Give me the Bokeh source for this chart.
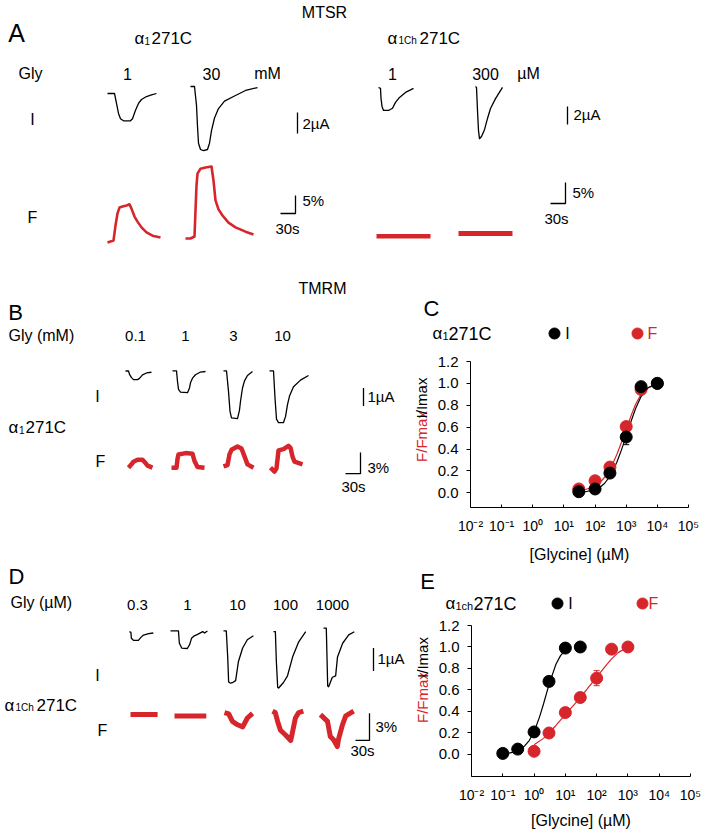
import numpy as np
from bokeh.plotting import figure
from bokeh.layouts import column, row
from bokeh.models import (Range1d, FixedTicker, PrintfTickFormatter, CustomJSTickFormatter,
                          Whisker, TeeHead, ColumnDataSource)
from bokeh.core.properties import value
from bokeh.embed import file_html
from bokeh.resources import INLINE

FONT = "Liberation Sans"
BLACK = "#000000"
RED = "#d7262b"

# ---------------- DATA (time in s, current in uA, fluorescence in %) ----------------
# Panel A: MTSR, alpha1 271C
A_I_1mM_t = [0, 14, 18, 22, 26, 32, 46, 50, 56, 62, 68, 78, 88, 98]
A_I_1mM_v = [0, 0, -0.95, -1.9, -2.4, -2.6, -2.6, -2.4, -1.6, -0.95, -0.57, -0.29, -0.14, 0]
A_I_30mM_t = [0, 8, 12, 14, 16, 20, 26, 34, 38, 42, 48, 56, 68, 86, 110, 134]
A_I_30mM_v = [0, 0, -1.8, -3.8, -5.4, -6.0, -6.1, -6.0, -5.4, -4.2, -3.0, -2.1, -1.4, -0.95, -0.38, -0.1]
A_F_1mM_t = [0, 6, 12, 16, 20, 24, 30, 38, 44, 48, 54, 60, 68, 78, 90, 106]
A_F_1mM_v = [0, 0.3, 0.55, 4.7, 8.1, 9.7, 10, 10.3, 10.6, 9.4, 7.2, 5.8, 4.2, 2.8, 1.9, 1.4]
A_F_30mM_t = [0, 10, 18, 20, 22, 24, 30, 40, 52, 56, 60, 66, 74, 86, 100, 120, 136]
A_F_30mM_v = [0, 0, 0.55, 7.8, 14.7, 18, 19.4, 19.7, 20, 16.1, 10.6, 8.1, 6.4, 4.4, 3.1, 1.9, 1.1]
# Panel A: MTSR, alpha1Ch 271C
A_Ich_1uM_t = [0, 4, 5, 7, 10, 20, 28, 34, 42, 54, 70]
A_Ich_1uM_v = [0, -0.1, -1.2, -2.1, -2.55, -2.55, -2.3, -1.65, -1.1, -0.55, -0.1]
A_Ich_300uM_t = [0, 2, 4, 6, 8, 12, 18, 24, 30, 40, 54]
A_Ich_300uM_v = [0, -0.1, -2.7, -4.9, -5.8, -5.55, -4.8, -3.55, -2.45, -1.35, -0.1]
A_Fch_1uM_t = [0, 108]
A_Fch_1uM_v = [0, 0]
A_Fch_300uM_t = [0, 108]
A_Fch_300uM_v = [0, 0]

# Panel B: TMRM, alpha1 271C, Gly 0.1, 1, 3, 10 mM
B_doses = ["0.1", "1", "3", "10"]
B_I_t = [[0, 6, 8, 12, 16, 24, 28, 34, 42, 52],
         [0, 8, 10, 12, 16, 30, 34, 36, 40, 46, 56, 66],
         [0, 6, 10, 13, 16, 28, 32, 34, 38, 42, 48, 58],
         [0, 8, 11, 14, 18, 28, 32, 36, 40, 48, 62, 78]]
B_I_v = [[0, 0, -0.19, -0.37, -0.48, -0.48, -0.41, -0.22, -0.11, -0.07],
         [0, 0, -0.6, -1.04, -1.19, -1.22, -0.96, -0.67, -0.41, -0.22, -0.07, -0.04],
         [0, 0, -1.15, -2.26, -2.63, -2.67, -2.19, -1.7, -0.96, -0.56, -0.26, -0.04],
         [0, 0, -1.52, -2.7, -2.89, -2.89, -2.56, -1.89, -1.41, -0.89, -0.52, -0.26]]
B_F_t = [[0, 6, 10, 18, 28, 34, 38, 48],
         [0, 10, 12, 14, 28, 42, 46, 52, 66],
         [0, 8, 12, 16, 28, 36, 42, 48, 60],
         [0, 8, 12, 16, 26, 36, 40, 44, 48, 64]]
B_F_v = [[0, 0.47, 0.84, 1.12, 1.12, 0.66, 0.28, 0],
         [0, 0, 1.22, 1.87, 2.06, 1.97, 0.94, 0.09, 0],
         [0, 0.19, 1.69, 2.34, 2.81, 2.53, 1.41, 0.28, -0.19],
         [0, -0.56, -0.09, 2.44, 2.62, 3.09, 2.81, 1.59, 0.84, 0.47]]

# Panel D: TMRM, alpha1Ch 271C, Gly 0.3, 1, 10, 100, 1000 uM
D_doses = ["0.3", "1", "10", "100", "1000"]
D_I_t = [[0, 3, 4, 9, 19, 24, 30, 41, 51],
         [0, 17, 19, 24, 36, 41, 45, 51, 58, 69, 73, 79],
         [0, 6, 9, 11, 15, 19, 26, 32, 41, 51, 64],
         [0, 4, 6, 9, 11, 21, 30, 41, 54, 69],
         [0, 6, 9, 11, 19, 26, 30, 41, 54, 66]]
D_I_v = [[0, -0.03, -0.29, -0.38, -0.38, -0.26, -0.15, -0.09, -0.06],
         [0, 0, -0.53, -0.74, -0.76, -0.59, -0.32, -0.21, -0.15, -0.03, -0.09, 0],
         [0, 0, -1.12, -2.21, -2.26, -2.24, -2.15, -1.32, -0.74, -0.38, -0.21],
         [0, 0, -1.24, -2.41, -2.44, -2.21, -1.91, -1.09, -0.44, 0],
         [0, 0, -2.5, -2.53, -2.12, -2.06, -1.24, -0.65, -0.29, -0.15]]
D_F_t = [[0, 58],
         [0, 68],
         [0, 9, 17, 28, 39, 49, 60],
         [0, 6, 11, 17, 28, 39, 43, 49, 56, 66],
         [0, 15, 21, 28, 36, 39, 47, 54, 71]]
D_F_v = [[0, 0],
         [0, 0],
         [0, -0.15, -0.98, -1.35, -1.58, -0.6, -0.08],
         [0, -0.15, -1.13, -2.1, -2.63, -3.23, -2.26, -0.75, -0.15, 0],
         [0, -0.75, -2.41, -2.78, -3.53, -2.63, -1.13, -0.15, 0.38]]

# Panel C: alpha1 271C concentration-response (uM)
C_conc = [30, 100, 300, 1000, 3000, 10000]
C_I = [0.01, 0.035, 0.18, 0.51, 0.97, 1.0]
C_F = [0.035, 0.11, 0.235, 0.605, 0.945, 1.0]
C_I_err_x = [1000]
C_I_err_lo = [0.44]
C_I_err_hi = [0.58]
C_fit_conc = [30, 50, 100, 150, 200, 300, 500, 700, 1000, 1500, 2000, 3000, 5000, 10000]
C_fit_I = [0.005, 0.01, 0.03, 0.055, 0.085, 0.15, 0.28, 0.39, 0.52, 0.67, 0.77, 0.88, 0.96, 1.0]
C_fit_F = [0.02, 0.03, 0.06, 0.1, 0.14, 0.21, 0.35, 0.46, 0.58, 0.72, 0.81, 0.9, 0.96, 0.99]

# Panel E: alpha1Ch 271C concentration-response (uM)
E_I_conc = [0.1, 0.3, 1, 3, 10, 30]
E_I = [0.01, 0.05, 0.21, 0.68, 0.99, 1.0]
E_F_conc = [1, 3, 10, 30, 100, 300, 1000]
E_F = [0.03, 0.2, 0.39, 0.53, 0.71, 0.98, 1.0]
E_I_err_x, E_I_err_lo, E_I_err_hi = [1], [0.17], [0.25]
E_F_err_x, E_F_err_lo, E_F_err_hi = [100], [0.64], [0.78]
E_fit_I_conc = [0.1, 0.2, 0.3, 0.5, 0.7, 1, 1.5, 2, 3, 5, 7, 10, 12]
E_fit_I = [0.0, 0.02, 0.04, 0.08, 0.13, 0.21, 0.35, 0.47, 0.65, 0.84, 0.92, 0.97, 0.98]
E_fit_F_conc = [1, 2, 3, 5, 10, 20, 30, 50, 100, 200, 300, 500, 1000]
E_fit_F = [0.09, 0.15, 0.2, 0.27, 0.37, 0.47, 0.53, 0.61, 0.72, 0.83, 0.89, 0.95, 1.0]

DECADES = [1e-2, 1e-1, 1e0, 1e1, 1e2, 1e3, 1e4, 1e5]
Y_TICKS = [0.0, 0.2, 0.4, 0.6, 0.8, 1.0, 1.2]


# ---------------- helpers (canvas y = minus page row, so y grows upward) ----------------
def canvas(x0, x1, y0, y1):
    p = figure(width=x1 - x0, height=y1 - y0, x_range=Range1d(x0, x1), y_range=Range1d(-y1, -y0),
               x_axis_type=None, y_axis_type=None, output_backend="svg", toolbar_location=None,
               min_border=0)
    p.grid.visible = False
    p.outline_line_color = None
    return p


def txt(p, x, y, s, size=15, color=BLACK, align="center", angle=0.0):
    p.text(x=[x], y=[-y], text=[s], text_font=value(FONT), text_font_size=f"{size}px",
           text_color=color, text_align=align, text_baseline="middle", angle=angle)


def alpha_txt(p, xa, xs, xm, yc, sub, sm=17, ss=10):
    txt(p, xa, yc, "α", 17, align="left")
    txt(p, xs, yc + 0.36 * (sm - ss), sub, ss, align="left")
    txt(p, xm, yc, "271C", sm, align="left")


def dot(p, x, y, color):
    p.scatter([x], [-y], size=11, fill_color=color, line_color=color)


def trace(p, t, v, x0, y0, sx, sy, color, lw):
    t = np.asarray(t, float)
    v = np.asarray(v, float)
    p.line(x0 + sx * t, -y0 + sy * v, line_color=color, line_width=lw, line_join="round")


def vbar_scale(p, x, ybot, length):
    p.line([x, x], [-ybot, -ybot + length], line_color=BLACK, line_width=1.3)


def lbar_scale(p, x, ybot, vlen, hlen):
    p.line([x - hlen, x, x], [-ybot, -ybot, -ybot + vlen], line_color=BLACK, line_width=1.3)


def ylabel_pair(p, x, y_red, y_black):
    # two rotated, centred pieces of the y-axis title
    txt(p, x, y_red, "F/Fmax", 15, color=RED, align="center", angle=np.pi / 2)
    txt(p, x, y_black, "I/Imax", 15, align="center", angle=np.pi / 2)


# ---------------- Panel A ----------------
pa = canvas(0, 709, 0, 270)
SX_A = 0.5
SY_AI_L, SY_AI_R = 10.5, 9.0
SY_AF_L, SY_AF_R = 3.6, 4.2
txt(pa, 324, 12, "MTSR", 16)
txt(pa, 16, 32, "A", 25)
alpha_txt(pa, 134, 144, 151, 37.5, "1")
alpha_txt(pa, 387, 398, 419, 37.5, "1Ch")
txt(pa, 30, 73, "Gly", 16)
for x, s in [(127, "1"), (211, "30"), (267, "mM"), (392, "1"), (485, "300"), (528, "µM")]:
    txt(pa, x, 73, s, 16)
txt(pa, 32, 119, "I", 16)
txt(pa, 32, 217, "F", 16)

trace(pa, A_I_1mM_t, A_I_1mM_v, 107, 93, SX_A, SY_AI_L, BLACK, 1.3)
trace(pa, A_I_30mM_t, A_I_30mM_v, 190, 86, SX_A, SY_AI_L, BLACK, 1.3)
trace(pa, A_Ich_1uM_t, A_Ich_1uM_v, 378, 87, SX_A, SY_AI_R, BLACK, 1.3)
trace(pa, A_Ich_300uM_t, A_Ich_300uM_v, 475, 86, SX_A, SY_AI_R, BLACK, 1.3)
trace(pa, A_F_1mM_t, A_F_1mM_v, 107, 242, SX_A, SY_AF_L, RED, 2.6)
trace(pa, A_F_30mM_t, A_F_30mM_v, 185, 238, SX_A, SY_AF_L, RED, 2.6)
trace(pa, A_Fch_1uM_t, A_Fch_1uM_v, 376, 235.7, SX_A, SY_AF_R, RED, 4.5)
trace(pa, A_Fch_300uM_t, A_Fch_300uM_v, 458, 233, SX_A, SY_AF_R, RED, 5)

vbar_scale(pa, 297, 133, 2 * SY_AI_L)
txt(pa, 302, 123, "2µA", 15, align="left")
vbar_scale(pa, 567, 124, 2 * SY_AI_R)
txt(pa, 573, 114, "2µA", 15, align="left")
lbar_scale(pa, 295, 213, 5 * SY_AF_L, 30 * SX_A)
txt(pa, 302, 200, "5%", 15, align="left")
txt(pa, 287, 228, "30s", 15)
lbar_scale(pa, 565, 203, 5 * SY_AF_R, 30 * SX_A)
txt(pa, 572, 192, "5%", 15, align="left")
txt(pa, 556, 218, "30s", 15)

# ---------------- Panel B (top strip + traces) ----------------
pb_top = canvas(0, 407, 270, 345)
txt(pb_top, 322, 288, "TMRM", 16)
txt(pb_top, 15, 312, "B", 22)
txt(pb_top, 8, 335, "Gly (mM)", 16, align="left")
for x, s in zip([135, 185, 233, 282], B_doses):
    txt(pb_top, x, 335, s, 15)

pb = canvas(0, 434, 345, 565)
SX_B, SY_BI, SY_BF = 0.5, 27.0, 10.67
txt(pb, 97, 397, "I", 16)
alpha_txt(pb, 8, 18.5, 25, 445, "1")
txt(pb, 100, 495, "F", 16)
for t, v, (x0, y0) in zip(B_I_t, B_I_v, [(125, 359.3), (172, 359), (223, 359), (269, 359)]):
    trace(pb, t, v, x0, y0, SX_B, SY_BI, BLACK, 1.3)
for t, v, (x0, y0) in zip(B_F_t, B_F_v, [(128, 505), (171, 505), (223, 503), (270, 505)]):
    trace(pb, t, v, x0, y0, SX_B, SY_BF, RED, 4.5)
vbar_scale(pb, 363, 412, 1 * SY_BI)
txt(pb, 367, 398, "1µA", 15, align="left")
lbar_scale(pb, 360, 514, 3 * SY_BF, 30 * SX_B)
txt(pb, 367, 505, "3%", 15, align="left")
txt(pb, 353, 533, "30s", 15)
ylabel_pair(pb, 421, 458, 400)   # y-axis title of panel C

# ---------------- Panel C header (letter + legend) ----------------
pc_top = canvas(407, 709, 270, 345)
txt(pc_top, 431, 308, "C", 22)
alpha_txt(pc_top, 432, 442, 448, 333, "1", sm=18, ss=11)
dot(pc_top, 554, 333, BLACK)
dot(pc_top, 637, 333, RED)
txt(pc_top, 567, 333, "I", 16)
txt(pc_top, 652, 333, "F", 16, color=RED)

# ---------------- Panel D (top strip + traces) ----------------
pd_top = canvas(0, 407, 565, 614)
txt(pd_top, 16, 576, "D", 22)
txt(pd_top, 10, 602, "Gly (µM)", 16, align="left")
for x, s in zip([137, 187, 237, 285, 332], D_doses):
    txt(pd_top, x, 604, s, 15)

pd_ = canvas(0, 434, 614, 836)
SX_D, SY_DI, SY_DF = 0.467, 34.0, 13.33
txt(pd_, 97, 688, "I", 16)
alpha_txt(pd_, 4, 15, 36, 732, "1Ch")
txt(pd_, 102, 768, "F", 16)
for t, v, (x0, y0) in zip(D_I_t, D_I_v, [(129, 623), (170, 622), (223, 622), (273, 623), (323, 618)]):
    trace(pd_, t, v, x0, y0, SX_D, SY_DI, BLACK, 1.3)
for t, v, (x0, y0) in zip(D_F_t, D_F_v, [(130, 745), (174, 747), (224, 742), (272, 740), (320, 745)]):
    trace(pd_, t, v, x0, y0, SX_D, SY_DF, RED, 5)
vbar_scale(pd_, 373, 681, 1 * SY_DI)
txt(pd_, 377, 663, "1µA", 15, align="left")
lbar_scale(pd_, 369, 783, 3 * SY_DF, 30 * SX_D)
txt(pd_, 375, 763, "3%", 15, align="left")
txt(pd_, 362, 798, "30s", 15)
ylabel_pair(pd_, 422, 720, 661)   # y-axis title of panel E

# ---------------- Panel E header ----------------
pe_top = canvas(407, 709, 565, 614)
txt(pe_top, 427, 581, "E", 22)
alpha_txt(pe_top, 445, 455, 473, 603, "1ch", sm=18, ss=11)
dot(pe_top, 557, 603, BLACK)
dot(pe_top, 642, 603, RED)
txt(pe_top, 570, 603, "I", 16)
txt(pe_top, 653, 603, "F", 16, color=RED)

# ---------------- Dose-response charts ----------------
SUP_JS = """
const sup = {"-": "\u207b", "0": "\u2070", "1": "\u00b9", "2": "\u00b2", "3": "\u00b3",
             "4": "\u2074", "5": "\u2075"};
const e = Math.round(Math.log10(tick));
return "10" + String(e).split("").map(c => sup[c]).join("");
"""


def dose_fig(width, height, ylo, mb_left, mb_right, mb_top, mb_bottom, lab_standoff):
    p = figure(width=width, height=height, x_axis_type="log", x_range=Range1d(1e-2, 1e5),
               y_range=Range1d(ylo, 1.2), output_backend="svg", toolbar_location=None,
               min_border_left=mb_left, min_border_right=mb_right, min_border_top=mb_top,
               min_border_bottom=mb_bottom)
    p.grid.visible = False
    p.outline_line_color = None
    p.xaxis.ticker = FixedTicker(ticks=DECADES)
    p.xaxis.formatter = CustomJSTickFormatter(code=SUP_JS)
    p.xaxis.major_tick_in = 3
    p.xaxis.major_tick_out = 0
    p.xaxis.minor_tick_line_color = None
    p.xaxis.major_label_standoff = 10
    p.xaxis.axis_label = "[Glycine] (µM)"
    p.xaxis.axis_label_text_font = FONT
    p.xaxis.axis_label_text_font_size = "16px"
    p.xaxis.axis_label_text_font_style = "normal"
    p.xaxis.axis_label_text_color = BLACK
    p.xaxis.axis_label_standoff = lab_standoff
    p.yaxis.ticker = FixedTicker(ticks=Y_TICKS)
    p.yaxis.formatter = PrintfTickFormatter(format="%.1f")
    p.yaxis.major_tick_in = 0
    p.yaxis.major_tick_out = 4
    p.yaxis.minor_tick_line_color = None
    p.yaxis.major_label_standoff = 8
    for ax in (p.xaxis, p.yaxis):
        ax.major_label_text_font = FONT
        ax.major_label_text_color = BLACK
        ax.axis_line_color = BLACK
        ax.major_tick_line_color = BLACK
    p.xaxis.major_label_text_font_size = "14px"
    p.yaxis.major_label_text_font_size = "15px"
    return p


def whisker(p, xs, lo, hi, color):
    src = ColumnDataSource(dict(x=xs, lo=lo, hi=hi))
    p.add_layout(Whisker(source=src, base="x", lower="lo", upper="hi", line_color=color, line_width=1,
                         upper_head=TeeHead(size=6, line_color=color, line_width=1),
                         lower_head=TeeHead(size=6, line_color=color, line_width=1)))


# Panel C chart: page x 434..709, y 345..565 ; frame x 470..688, y 361..510
pc = dose_fig(275, 220, -0.1343, 36, 21, 16, 55, 9)
whisker(pc, C_I_err_x, C_I_err_lo, C_I_err_hi, BLACK)
pc.line(C_fit_conc, C_fit_F, line_color=RED, line_width=1.2)
pc.line(C_fit_conc, C_fit_I, line_color=BLACK, line_width=1.2)
pc.scatter(C_conc, C_F, size=12, fill_color=RED, line_color=RED)
pc.scatter(C_conc, C_I, size=12, fill_color=BLACK, line_color=BLACK)

# Panel E chart: page x 434..709, y 614..836 ; frame x 471..690, y 625..776
pe = dose_fig(275, 222, -0.2047, 37, 19, 11, 60, 6)
whisker(pe, E_I_err_x, E_I_err_lo, E_I_err_hi, BLACK)
whisker(pe, E_F_err_x, E_F_err_lo, E_F_err_hi, RED)
pe.line(E_fit_F_conc, E_fit_F, line_color=RED, line_width=1.2)
pe.line(E_fit_I_conc, E_fit_I, line_color=BLACK, line_width=1.2)
pe.scatter(E_F_conc, E_F, size=12, fill_color=RED, line_color=RED)
pe.scatter(E_I_conc, E_I, size=12, fill_color=BLACK, line_color=BLACK)

layout = column(
    pa,
    column(row(pb_top, pc_top), row(pb, pc)),
    column(row(pd_top, pe_top), row(pd_, pe)),
)
open("out.html", "w").write(file_html(layout, INLINE))
